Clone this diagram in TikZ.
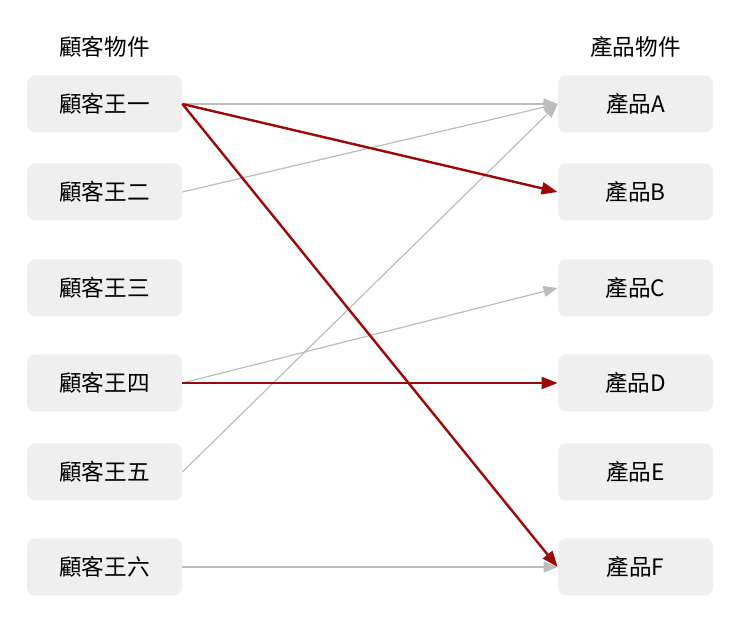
\documentclass[tikz,border=0pt]{standalone}
\usepackage{fontspec}
\setmainfont{Noto Sans CJK TC}
\usepackage{xcolor}
\usetikzlibrary{arrows.meta}

\definecolor{boxgray}{RGB}{239,239,239}
\definecolor{linegray}{RGB}{188,188,188}
\definecolor{darkred}{RGB}{155,8,8}

\begin{document}
\begin{tikzpicture}[x=0.5pt,y=-0.5pt,
	every node/.style={font=\fontsize{11.3}{13}\selectfont},
	item/.style={fill=boxgray, rounded corners=4pt, minimum width=77.5pt, minimum height=28.5pt, inner sep=0pt},
	weak/.style={draw=linegray, line width=0.6pt, -{Triangle[length=7pt,width=5.5pt]}},
	strong/.style={draw=darkred, line width=1.2pt, -{Triangle[length=8pt,width=6pt]}}]
	\useasboundingbox (0,0) rectangle (740,630);

	\node (chead) at (104.5,47) {顧客物件};
	\node (phead) at (635.5,47) {產品物件};

		\foreach \name/\text/\y in {
		c1/顧客王一/104, c2/顧客王二/192, c3/顧客王三/288, c4/顧客王四/383, c5/顧客王五/472, c6/顧客王六/567
		}{
			\node[item] (\name) at (104.5,\y) {\text};
		};
		\foreach \name/\text/\y in {
		pA/產品A/104, pB/產品B/192, pC/產品C/288, pD/產品D/383, pE/產品E/472, pF/產品F/567
		}{
			\node[item] (\name) at (635.5,\y) {\text};
		};

	% weak links
	\draw[weak] (c1.east) -- (pA.west);
	\draw[weak] (c2.east) -- (pA.west);
	\draw[weak] (c5.east) -- (pA.west);
	\draw[weak] (c4.east) -- (pC.west);
	\draw[weak] (c6.east) -- (pF.west);

	% strong links
	\draw[strong] (c1.east) -- (pB.west);
	\draw[strong] (c1.east) -- (pF.west);
	\draw[strong] (c4.east) -- (pD.west);

	\end{tikzpicture}
\end{document}
